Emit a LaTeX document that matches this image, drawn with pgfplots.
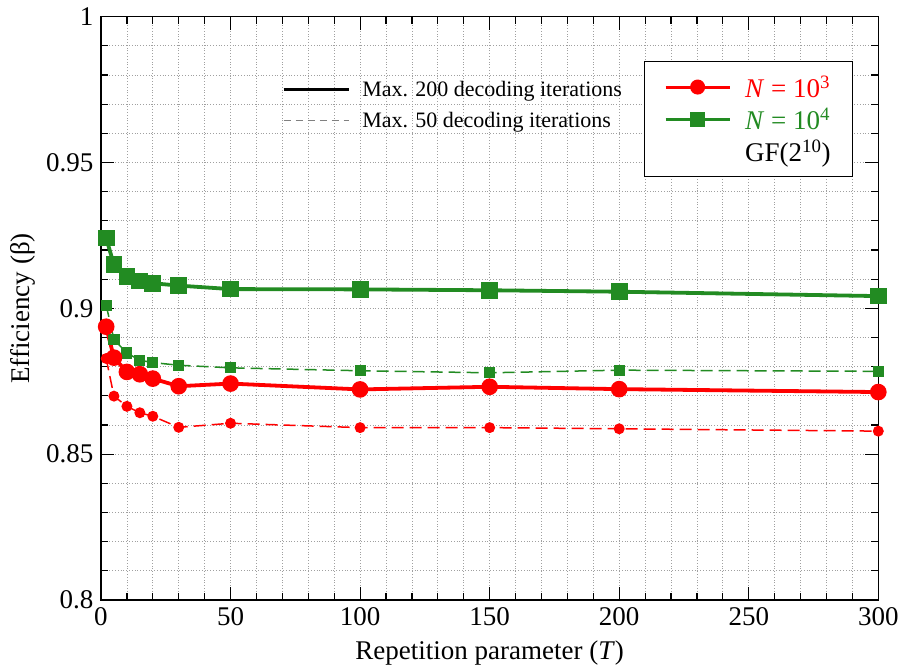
\documentclass[border=0pt]{standalone}
\usepackage{fontspec}
\setmainfont{Liberation Serif}
\usepackage{pgfplots}
\usepackage{pgfplotstable}
\pgfplotsset{compat=1.18}
\usetikzlibrary{calc}

\definecolor{fgreen}{RGB}{34,139,34}
\definecolor{gridgray}{RGB}{160,160,160}

% Efficiency vs. repetition parameter T, GF(2^10)
% it200 = max. 200 decoding iterations, it50 = max. 50 decoding iterations
\pgfplotstableread{
T    it200   it50
2    0.8937  0.8828
5    0.8831  0.8699
10   0.8782  0.8664
15   0.8774  0.8642
20   0.8759  0.8630
30   0.8733  0.8592
50   0.8742  0.8606
100  0.8722  0.8591
150  0.8731  0.8591
200  0.8723  0.8587
300  0.8713  0.8579
}\tabNthree

\pgfplotstableread{
T    it200   it50
2    0.9241  0.9011
5    0.9149  0.8893
10   0.9109  0.8847
15   0.9094  0.8822
20   0.9086  0.8814
30   0.9078  0.8805
50   0.9066  0.8796
100  0.9065  0.8786
150  0.9062  0.8779
200  0.9057  0.8788
300  0.9042  0.8784
}\tabNfour

\newcommand{\bigfont}{\rmfamily\fontsize{27}{32}\selectfont}
\newcommand{\smallfont}{\rmfamily\fontsize{22}{26}\selectfont}

\begin{document}
\begin{tikzpicture}
\begin{axis}[
  name=main,
  width=777.3pt, height=583.3pt, scale only axis,
  xmin=0, xmax=300, ymin=0.8, ymax=1,
  xtick={0,50,100,150,200,250,300},
  xticklabels={0,50,100,150,200,250,300},
  ytick={0.8,0.85,0.9,0.95,1},
  yticklabels={0.8,0.85,0.9,0.95,1},
  minor x tick num=4, minor y tick num=4,
  tick pos=both, tick align=inside,
  major tick length=13pt, minor tick length=7pt,
  every tick/.style={black, line width=1.2pt},
  axis line style={black, line width=1.5pt},
  grid=both,
  major grid style={gridgray, line width=0.8pt, dash pattern=on 0.8pt off 2pt},
  minor grid style={gridgray, line width=0.8pt, dash pattern=on 0.8pt off 2pt},
  tick label style={font=\bigfont},
  xticklabel style={yshift=-4pt},
  yticklabel style={xshift=-4pt},
  xlabel={Repetition parameter (\textit{T})},
  ylabel={Efficiency (β)},
  every axis x label/.style={at={(axis description cs:0.5,-0.1025)}, anchor=base, font=\bigfont},
  every axis y label/.style={at={(axis description cs:-0.0926,0.5)}, anchor=base, rotate=90, font=\bigfont},
  legend image code/.code={\draw[mark repeat=2, mark phase=2, #1] plot coordinates {(0pt,0pt) (32pt,0pt) (64pt,0pt)};},
  legend cell align=left,
  legend style={at={(rel axis cs:0.9675,0.924)}, anchor=north east,
    draw=black, line width=1pt, fill=white, font=\bigfont,
    inner xsep=20pt, inner ysep=12pt, row sep=5pt, column sep=12pt},
]
% dashed: max. 50 decoding iterations
\addplot[forget plot, red, line width=1.5pt, dash pattern=on 12pt off 6pt,
  mark=*, mark size=4.7pt, mark options={solid}] table[x=T, y=it50] {\tabNthree};
\addplot[forget plot, fgreen, line width=1.5pt, dash pattern=on 12pt off 6pt,
  mark=square*, mark size=4.8pt, mark options={solid}] table[x=T, y=it50] {\tabNfour};
% solid: max. 200 decoding iterations
\addplot[forget plot, red, line width=3.8pt,
  mark=*, mark size=6.4pt] table[x=T, y=it200] {\tabNthree};
\addplot[forget plot, fgreen, line width=3.8pt,
  mark=square*, mark size=6.5pt] table[x=T, y=it200] {\tabNfour};

\addlegendimage{red, line width=3pt, mark=*, mark size=6pt}
\addlegendentry{\textcolor{red}{\textit{N} = 10\textsuperscript{3}}}
\addlegendimage{fgreen, line width=3pt, mark=square*, mark size=6pt}
\addlegendentry{\textcolor{fgreen}{\textit{N} = 10\textsuperscript{4}}}
\addlegendimage{legend image code/.code={}}
\addlegendentry{GF(2\textsuperscript{10})}
\end{axis}

% line-style key
\begin{axis}[
  width=777.3pt, height=583.3pt, scale only axis,
  xmin=0, xmax=1, ymin=0, ymax=1, hide axis,
  legend image code/.code={\draw[#1] (0pt,0pt) -- (65pt,0pt);},
  legend cell align=left,
  legend style={at={(rel axis cs:0.2326,0.893)}, anchor=north west,
    draw=none, fill=none, font=\smallfont, inner sep=0pt, row sep=10pt, column sep=10pt},
]
\addlegendimage{black, line width=3.3pt}
\addlegendentry{Max. 200 decoding iterations}
\addlegendimage{gray, line width=1.5pt, dash pattern=on 7pt off 5pt}
\addlegendentry{Max. 50 decoding iterations}
\end{axis}

\pgfresetboundingbox
\path[use as bounding box] ($(main.south west)+(-101pt,-68pt)$) rectangle ($(main.north east)+(23.7pt,16.7pt)$);
\end{tikzpicture}
\end{document}
